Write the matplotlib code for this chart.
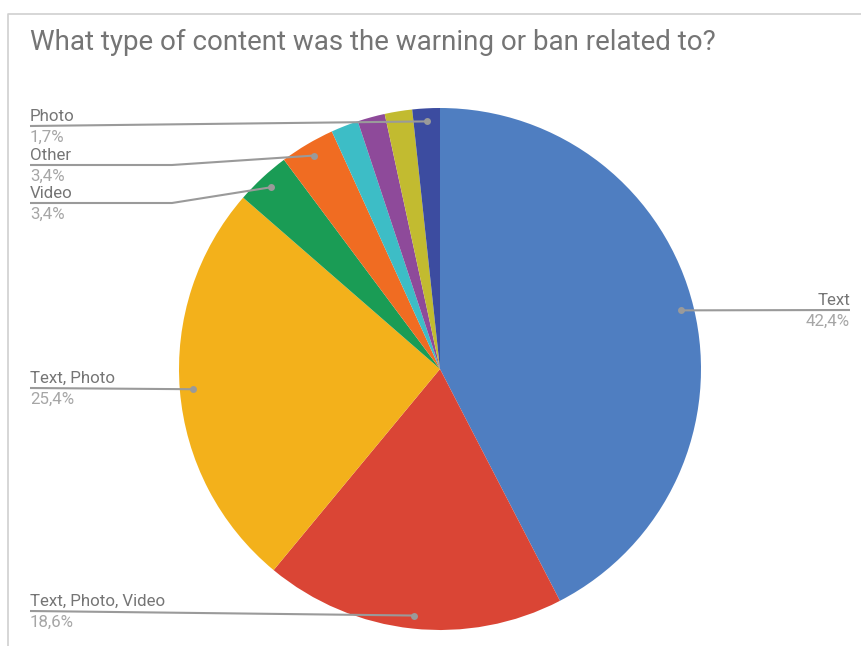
import numpy as np
import matplotlib
matplotlib.use("Agg")
import matplotlib.pyplot as plt
from matplotlib.lines import Line2D

# Survey answers: what kind of content a warning or ban was about
categories = ["Text", "Text, Photo, Video", "Text, Photo", "Video", "Other",
              "Text, Video", "Photo, Video", "Text, Other", "Photo"]
shares = [42.4, 18.6, 25.4, 3.4, 3.4, 1.7, 1.7, 1.7, 1.7]
colors = ["#4f7ec1", "#da4535", "#f3b11b", "#1a9c55", "#f06c22",
          "#3dbdc6", "#8e4a9a", "#c2bb30", "#3c4ca0"]
# only these slices carry a callout label
labelled = ["Text", "Text, Photo, Video", "Text, Photo", "Video", "Other", "Photo"]

W, H = 861, 646
fig = plt.figure(figsize=(W / 100, H / 100), dpi=100)
ax = fig.add_axes([0, 0, 1, 1])

def Y(y):
    return H - y

cx, cy, R = 440, 369, 261
wedges, _ = ax.pie(shares, colors=colors, startangle=90, counterclock=False,
                   center=(cx, Y(cy)), radius=R, frame=True,
                   wedgeprops=dict(linewidth=0))
ax.set_xlim(0, W)
ax.set_ylim(0, H)
ax.set_aspect("equal")
ax.axis("off")

# outer frame (top and left edges)
ax.add_line(Line2D([8, 8, W], [Y(H), Y(14), Y(14)], color="#d0d0d0", lw=1.2))

ax.text(30, Y(42), "What type of content was the warning or ban related to?",
        fontsize=20, color="#757575", family="Roboto", va="center", ha="left")

name_col = "#757575"
pct_col = "#a6a6a6"
line_col = "#9a9a9a"

# callout layout: (label x, label y of rule, elbow x or None, align)
layout = {
    "Text": (850, 310, None, "right"),
    "Text, Photo, Video": (30, 611, None, "left"),
    "Text, Photo": (30, 388, None, "left"),
    "Video": (30, 203, 172, "left"),
    "Other": (30, 165, 172, "left"),
    "Photo": (30, 126, None, "left"),
}

for w, name, val in zip(wedges, categories, shares):
    if name not in labelled:
        continue
    mid = np.deg2rad((w.theta1 + w.theta2) / 2)
    px = cx + 0.95 * R * np.cos(mid)
    py = Y(cy) + 0.95 * R * np.sin(mid)
    lx, ly, elbow, ha = layout[name]
    if ha == "right":
        xs, ys = [px, lx], [py, Y(ly)]
    elif elbow is None:
        xs, ys = [lx, px], [Y(ly), py]
    else:
        xs, ys = [lx, elbow, px], [Y(ly), Y(ly), py]
    ax.plot(xs, ys, color=line_col, lw=1.5, solid_capstyle="butt", zorder=3)
    ax.plot([px], [py], "o", color=line_col, ms=5, mec="none", zorder=4)
    ax.text(lx, Y(ly) + 2, name, fontsize=12.2, color=name_col, family="Roboto",
            ha=ha, va="bottom")
    ax.text(lx, Y(ly) - 3.5, f"{val:.1f}%".replace(".", ","), fontsize=12.2,
            color=pct_col, family="Roboto", ha=ha, va="top")

fig.savefig("out.png", dpi=100, facecolor="white")
